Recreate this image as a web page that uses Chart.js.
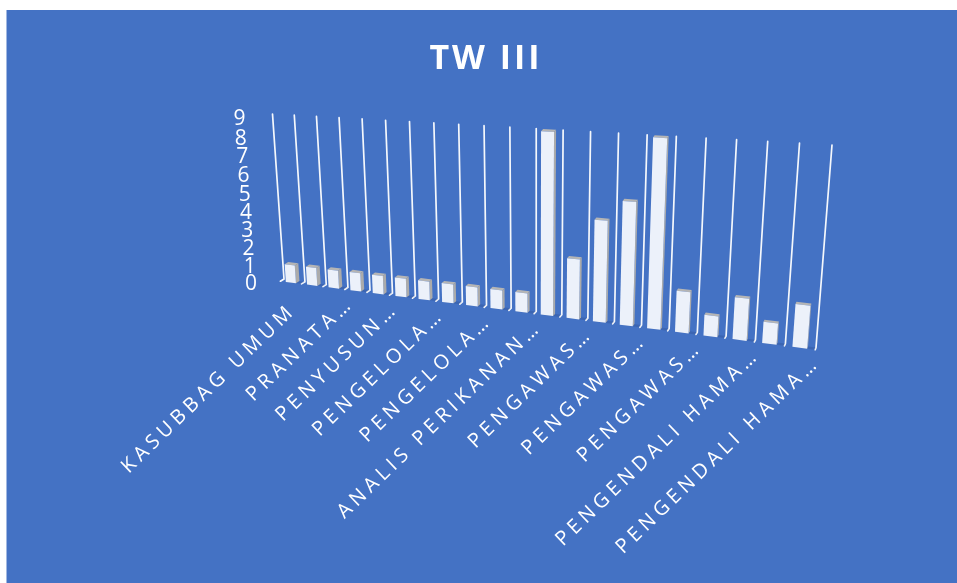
<!DOCTYPE html>
<html>
<head>
<meta charset="utf-8">
<title>TW III</title>
<script src="https://cdn.jsdelivr.net/npm/chart.js@4/dist/chart.umd.min.js"></script>
<style>
  html, body { margin: 0; padding: 0; background: #fff; overflow: hidden; }
  canvas { display: block; filter: blur(0.3px); }
</style>
</head>
<body>
<canvas id="twChart" width="957" height="583"></canvas>
<script>
// Only every other category name is readable in the picture
const categories = [
    'KASUBBAG UMUM', '', 'PRANATA…', '', 'PENYUSUN…', '', 'PENGELOLA…', '', 'PENGELOLA…', '',
    'ANALIS PERIKANAN…', '', 'PENGAWAS…', '', 'PENGAWAS…', '', 'PENGAWAS…', '', 'PENGENDALI HAMA…', '',
    'PENGENDALI HAMA…'
];
const values = [1, 1, 1, 1, 1, 1, 1, 1, 1, 1, 1, 9, 3, 5, 6, 9, 2, 1, 2, 1, 2];
const yTicks = [0, 1, 2, 3, 4, 5, 6, 7, 8, 9];

const blue = '#4472C4';
const faceColor = '#ECF1FA';
const sideColor = '#ABABAB';
const topColor = '#B5B5B5';

// back wall corners on screen: bottom left, bottom right, top right, top left
const wall = [[284, 279], [816, 347.5], [832, 145], [272.5, 114]];

function makeProjection(q) {
    const [p0, p1, p2, p3] = q;
    const dx1 = p1[0] - p2[0], dx2 = p3[0] - p2[0], dx3 = p0[0] - p1[0] + p2[0] - p3[0];
    const dy1 = p1[1] - p2[1], dy2 = p3[1] - p2[1], dy3 = p0[1] - p1[1] + p2[1] - p3[1];
    const den = dx1 * dy2 - dx2 * dy1;
    const g = (dx3 * dy2 - dx2 * dy3) / den;
    const h = (dx1 * dy3 - dx3 * dy1) / den;
    const a = p1[0] - p0[0] + g * p1[0], b = p3[0] - p0[0] + h * p3[0];
    const d = p1[1] - p0[1] + g * p1[1], e = p3[1] - p0[1] + h * p3[1];
    return function(u, v) {
        // small warp, the reference has slightly less foreshortening mid way
        const s = u + 0.014 * u * (1 - u);
        const w = g * s + h * v + 1;
        return [(a * s + b * v + p0[0]) / w, (d * s + e * v + p0[1]) / w];
    };
}
const project = makeProjection(wall);

// front plane of the bars sits a little in front of the wall
function front(u, v) {
    const p = project(u, v);
    return [p[0] - 3.6 + 2.8 * u, p[1] + 2.2];
}

function poly(ctx, pts, color) {
    ctx.beginPath();
    pts.forEach((p, i) => i ? ctx.lineTo(p[0], p[1]) : ctx.moveTo(p[0], p[1]));
    ctx.closePath();
    ctx.fillStyle = color;
    ctx.fill();
}

const perspective = {
    id: 'perspective',
    beforeDraw(chart) {
        const ctx = chart.ctx;
        ctx.save();
        ctx.fillStyle = blue;
        ctx.fillRect(6.5, 10, 957, 583);
        ctx.restore();
        ctx.letterSpacing = '3px';
    },
    beforeDatasetDraw(chart, args) {
        const ctx = chart.ctx;
        const area = chart.chartArea;
        const xs = chart.scales.x, ys = chart.scales.y;
        const toU = px => (px - area.left) / (area.right - area.left);
        const toV = py => (area.bottom - py) / (area.bottom - area.top);

        ctx.save();
        ctx.letterSpacing = '0px';

        // wall lines between the categories, with the short floor tick
        ctx.strokeStyle = 'rgba(255,255,255,0.95)';
        ctx.lineWidth = 1.7;
        ctx.lineCap = 'round';
        for (let i = 0; i <= categories.length; i++) {
            const u = i / categories.length;
            const t = project(u, 1), b = project(u, 0), f = front(u, 0);
            ctx.beginPath();
            ctx.moveTo(t[0], t[1]);
            ctx.lineTo(b[0], b[1]);
            ctx.lineTo(f[0], f[1]);
            ctx.stroke();
        }

        // the boxes
        args.meta.data.forEach(el => {
            const u0 = toU(el.x - el.width / 2), u1 = toU(el.x + el.width / 2);
            const v0 = toV(el.base), v1 = toV(el.y);
            // soft shade on the floor to the right of the box
            poly(ctx, [front(u0, v0), front(u1 + 0.012, v0), project(u1 + 0.012, v0), project(u0, v0)], 'rgba(20,40,90,0.16)');
            poly(ctx, [front(u0, v1), front(u1, v1), project(u1, v1), project(u0, v1)], topColor);
            poly(ctx, [front(u1, v0), project(u1, v0), project(u1, v1), front(u1, v1)], sideColor);
            poly(ctx, [front(u0, v0), front(u1, v0), front(u1, v1), front(u0, v1)], faceColor);
        });

        // value axis
        ctx.fillStyle = '#fff';
        ctx.font = '21px "Open Sans"';
        ctx.textAlign = 'right';
        ctx.textBaseline = 'middle';
        yTicks.forEach(t => {
            const p = project(0, toV(ys.getPixelForValue(t)));
            ctx.fillText(String(t), p[0] - 27, p[1] + 5.5);
        });

        // category labels
        ctx.font = '20px "Open Sans"';
        ctx.letterSpacing = '4.6px';
        categories.forEach((label, i) => {
            if (!label) return;
            const p = front(toU(xs.getPixelForValue(i)), 0);
            const cut = label.endsWith('…');
            ctx.save();
            ctx.translate(p[0] + (cut ? 17 : 2), p[1] + (cut ? 12 : 25));
            ctx.rotate(-44 * Math.PI / 180);
            ctx.fillText(label, 0, 0);
            ctx.restore();
        });
        ctx.restore();
        return false;
    }
};

new Chart(document.getElementById('twChart'), {
    type: 'bar',
    data: {
        labels: categories,
        datasets: [{
            label: 'TW III',
            data: values,
            backgroundColor: faceColor,
            categoryPercentage: 0.48,
            barPercentage: 1
        }]
    },
    options: {
        responsive: false,
        animation: false,
        layout: { padding: { left: 15, top: 35 } },
        plugins: {
            legend: { display: false },
            tooltip: { enabled: false },
            title: {
                display: true,
                text: 'TW III',
                color: '#fff',
                font: { family: '"Open Sans"', size: 34, weight: 'bold' },
                padding: { top: 4, bottom: 10 }
            }
        },
        scales: {
            x: { display: false },
            y: { display: false, min: 0, max: 9, ticks: { stepSize: 1 } }
        }
    },
    plugins: [perspective]
});
</script>
</body>
</html>
